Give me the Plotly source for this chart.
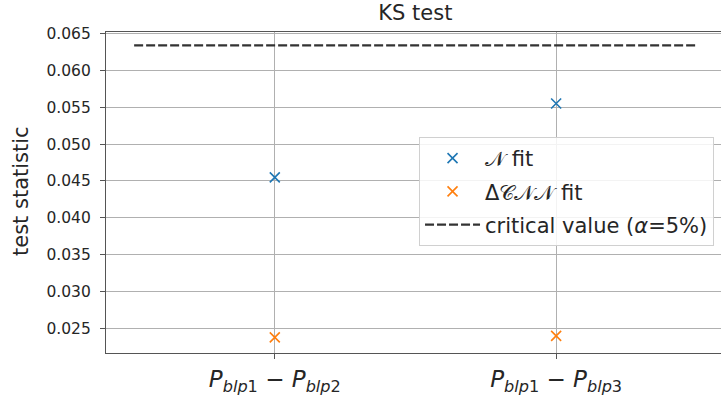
import plotly.graph_objects as go

categories = ["<i>P</i><sub><i>blp</i>1</sub> − <i>P</i><sub><i>blp</i>2</sub>",
              "<i>P</i><sub><i>blp</i>1</sub> − <i>P</i><sub><i>blp</i>3</sub>"]
cat_pos = [0, 1]
normal_fit = [0.0455, 0.0555]
dcnn_fit = [0.0238, 0.0240]
critical_value = 0.0634
crit_x = [-0.5, 1.5]
y_ticks = [0.025, 0.030, 0.035, 0.040, 0.045, 0.050, 0.055, 0.060, 0.065]

FONT = "DejaVu Sans"
fig = go.Figure()
fig.add_trace(go.Scatter(
    x=cat_pos, y=normal_fit, mode="markers", name="𝒩 fit", legendgroup="a",
    marker=dict(symbol="x-thin", size=10, line=dict(width=1.6, color="#1f77b4"), color="#1f77b4")))
fig.add_trace(go.Scatter(
    x=cat_pos, y=dcnn_fit, mode="markers", name="Δ𝒞𝒩𝒩 fit", legendgroup="b",
    marker=dict(symbol="x-thin", size=10, line=dict(width=1.6, color="#ff7f0e"), color="#ff7f0e")))
fig.add_trace(go.Scatter(
    x=crit_x, y=[critical_value, critical_value], mode="lines", legendgroup="c",
    name="critical value (<i>α</i>=5%)",
    line=dict(color="#333333", width=2.2, dash="9px,3px")))

fig.update_layout(
    width=721, height=398,
    margin=dict(l=106, r=0, t=32, b=45, autoexpand=False),
    plot_bgcolor="white", paper_bgcolor="white",
    font=dict(family=FONT, color="#262626"),
    showlegend=True,
    legend=dict(x=0.509, y=0.673, xanchor="left", yanchor="top", tracegroupgap=3,
                itemwidth=55,
                bgcolor="rgba(255,255,255,0.85)", bordercolor="#d0d0d0", borderwidth=1,
                font=dict(size=21, family=FONT, color="#262626")),
    title=dict(text="KS test", x=0.503, xref="paper", xanchor="center",
               y=0.967, yanchor="middle", font=dict(size=21, family=FONT, color="#262626")),
)
fig.update_xaxes(
    range=[-0.6, 1.586], tickvals=cat_pos, ticktext=categories, automargin=False,
    showgrid=True, gridcolor="#b0b0b0", gridwidth=1,
    showline=True, linecolor="#555555", linewidth=1.2, mirror=True,
    ticks="outside", ticklen=5, tickcolor="#555555",
    tickfont=dict(size=23, family=FONT, color="#262626"), zeroline=False)
fig.update_yaxes(
    range=[0.02168, 0.0652], tickvals=y_ticks, tickformat=".3f", automargin=False,
    showgrid=True, gridcolor="#b0b0b0", gridwidth=1,
    showline=True, linecolor="#555555", linewidth=1.2,
    ticks="outside", ticklen=5, tickcolor="#555555", ticklabelstandoff=6,
    tickfont=dict(size=15.5, family=FONT, color="#262626"), zeroline=False)
fig.add_annotation(text="test statistic", textangle=-90, xref="paper", yref="paper",
                   x=-0.138, y=0.505, xanchor="center", yanchor="middle", showarrow=False,
                   font=dict(size=21, family=FONT, color="#262626"))
fig.write_html("out.html", config={"displayModeBar": False},
               post_script="document.body.style.margin='0';")
